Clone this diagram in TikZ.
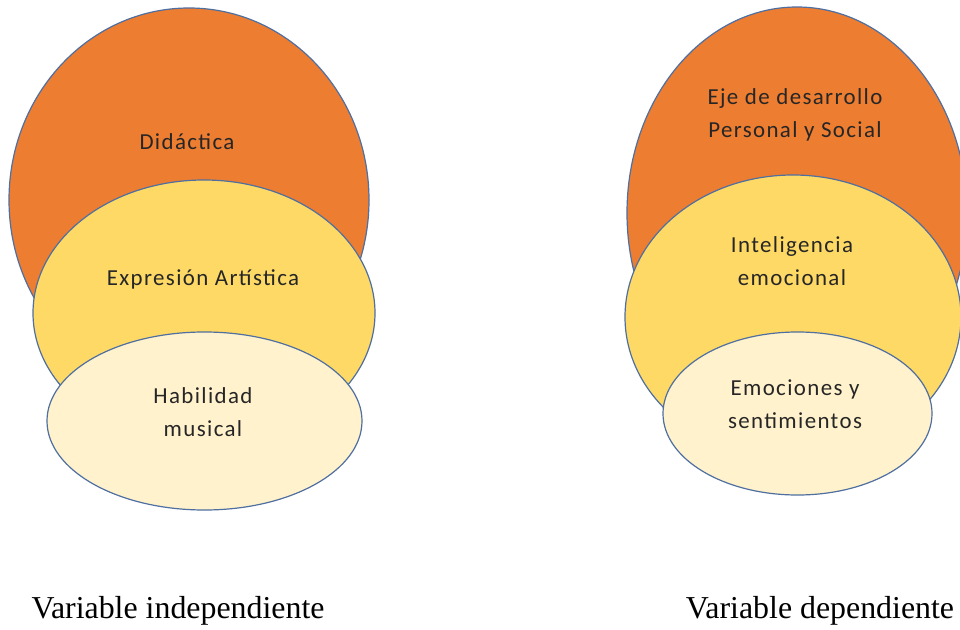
\documentclass[tikz,border=0pt]{standalone}
\usepackage{fontspec}
\setmainfont{Liberation Serif}
\newfontfamily\calfont[LetterSpace=6]{Carlito}
\usetikzlibrary{shapes.geometric}
\definecolor{orng}{HTML}{ED7D31}
\definecolor{ylw}{HTML}{FED966}
\definecolor{lgt}{HTML}{FFF2CC}
\definecolor{edge}{HTML}{4F6FA0}
\begin{document}
\begin{tikzpicture}[x=1bp,y=-1bp,
  blob/.style={ellipse, draw=edge, line width=1.2bp, inner sep=0pt, outer sep=0pt},
  lbl/.style={font=\calfont\fontsize{23}{33}\selectfont, align=center, inner sep=0pt, text=black!85},
  captxt/.style={font=\fontsize{32}{34}\selectfont, inner sep=0pt, anchor=base}]
\useasboundingbox (0,0) rectangle (960,630);
\clip (0,0) rectangle (960,630);
\fill[white] (0,0) rectangle (960,630);
% left group
\node[blob, fill=orng, minimum width=360bp, minimum height=384bp] (lo) at (189,200) {};
\node[blob, fill=ylw, minimum width=342bp, minimum height=266bp] (ly) at (204,313) {};
\node[blob, fill=lgt, minimum width=315bp, minimum height=178bp] (ll) at (204.5,421) {};
\node[lbl] (t1) at (187,142) {Didáctica};
\node[lbl] (t2) at (203,279) {Expresión Artística};
\node[lbl] (t3) at (203,412) {Habilidad\\musical};
% right group
\node[blob, fill=orng, minimum width=340bp, minimum height=412bp] (ro) at (797,213) {};
\node[blob, fill=ylw, minimum width=336bp, minimum height=284bp] (ry) at (793,317) {};
\node[blob, fill=lgt, minimum width=269bp, minimum height=163bp] (rl) at (797.5,413.5) {};
\node[lbl] (t4) at (795,115) {Eje de desarrollo\\Personal y Social};
\node[lbl] (t5) at (792,261) {Inteligencia\\emocional};
\node[lbl] (t6) at (795,404) {Emociones y\\sentimientos};
% captions
\node[captxt] (c1) at (178,618) {Variable independiente};
\node[captxt] (c2) at (820,618) {Variable dependiente};
\end{tikzpicture}
\end{document}
